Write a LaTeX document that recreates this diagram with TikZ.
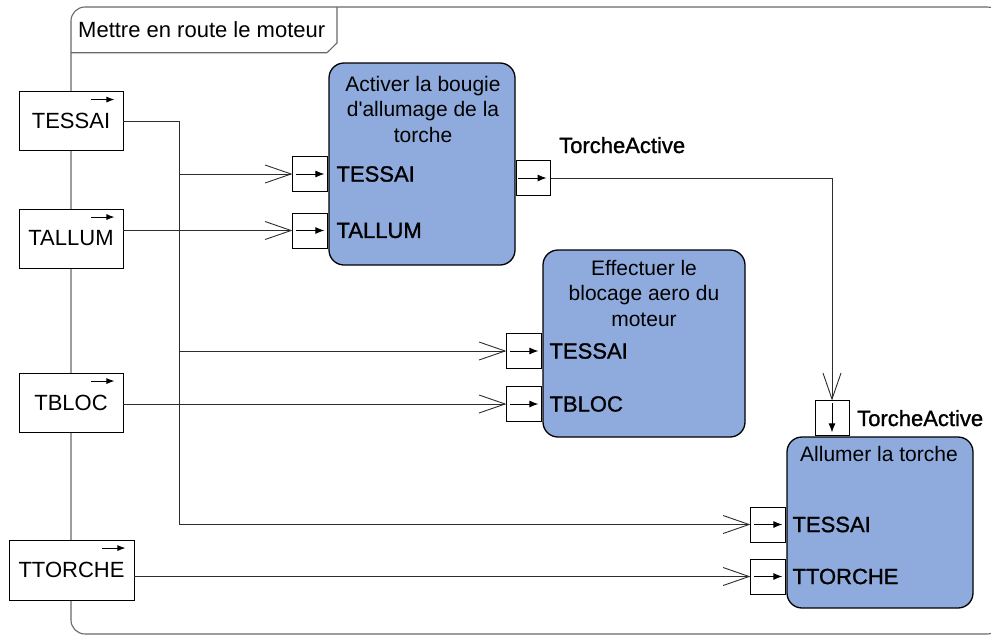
\documentclass[tikz,border=0pt]{standalone}
\usepackage{fontspec}
\setmainfont{Liberation Sans}
\newfontfamily\pinfont{Liberation Sans}[FakeBold=1.2]
\usetikzlibrary{arrows.meta,calc}
\definecolor{blockblue}{RGB}{143,171,221}
\definecolor{framegray}{RGB}{105,105,105}
\definecolor{linegray}{RGB}{45,45,45}
\begin{document}
\begin{tikzpicture}[x=1pt,y=-1pt,
  sigbox/.style={draw=black, fill=white, line width=0.9pt, inner sep=0pt, minimum width=104pt, minimum height=59pt, font=\fontsize{22}{26}\selectfont},
  pinbox/.style={draw=black, fill=white, line width=0.9pt, inner sep=0pt, minimum width=35pt, minimum height=35pt},
  block/.style={draw=black, fill=blockblue, line width=1.3pt, rounded corners=15pt, inner sep=0pt},
  btitle/.style={inner sep=0pt, align=center, font=\fontsize{21}{25.5}\selectfont},
  pinlabel/.style={inner sep=0pt, anchor=west, font=\pinfont\fontsize{22}{26}\selectfont},
  conn/.style={draw=linegray, line width=0.9pt},
  openarrow/.style={conn, -{Straight Barb[length=26pt, width=18pt, line width=0.9pt]}},
  pinarrow/.style={draw=black, line width=0.9pt, -{Latex[length=9pt, width=7pt]}},
  sigarrow/.style={draw=black, line width=0.9pt, -{Latex[length=8pt, width=6pt]}}
]
\useasboundingbox (0,0) rectangle (991,635);
\clip (0,0) rectangle (991,635);

% outer frame
\draw[framegray, line width=1.1pt, rounded corners=14pt] (71,7) rectangle (1001,634);
\draw[framegray, line width=1.1pt] (71,52.7) -- (327,52.7) -- (337,43) -- (337,7);
\node[anchor=base west, inner sep=0pt, font=\fontsize{22}{26}\selectfont] (title) at (78,37.5) {Mettre en route le moteur};

% blocks
\node[block, minimum width=186pt, minimum height=202pt] (act) at (422,164) {};
\node[block, minimum width=202pt, minimum height=187pt] (eff) at (644,343.5) {};
\node[block, minimum width=186pt, minimum height=171pt] (all) at (880,522.5) {};

\node[btitle, anchor=north] (actT) at (423,76) {Activer la bougie\\d\textquotesingle allumage de la\\torche};
\node[btitle, anchor=north] (effT) at (644,260) {Effectuer le\\blocage aero du\\moteur};
\node[btitle, anchor=north] (allT) at (879,446) {Allumer la torche};

% pins
\node[pinbox, anchor=east] (atessai) at (act.west |- 0,174) {};
\node[pinbox, anchor=east] (atallum) at (act.west |- 0,230.5) {};
\node[pinbox, anchor=west, minimum width=34pt] (aout) at (act.east |- 0,178) {};
\node[pinbox, anchor=east] (etessai) at (eff.west |- 0,351) {};
\node[pinbox, anchor=east] (etbloc) at (eff.west |- 0,404) {};
\node[pinbox, anchor=south, minimum width=34pt] (lta) at (all.north -| 832,0) {};
\node[pinbox, anchor=east] (ltessai) at (all.west |- 0,524.5) {};
\node[pinbox, anchor=east] (lttorche) at (all.west |- 0,576.5) {};

\foreach \p in {atessai,atallum,etessai,etbloc,ltessai,lttorche}{
  \draw[pinarrow] ($(\p.west)+(4,0)$) -- ($(\p.east)+(-4,0)$);
}
\draw[pinarrow] ($(aout.west)+(2,0)$) -- ($(aout.east)+(-4,0)$);
\draw[pinarrow] ($(lta.north)+(0,3)$) -- ($(lta.south)+(0,-4)$);

% pin labels
\node[pinlabel] (latessai) at ($(act.west |- atessai)+(8,0)$) {TESSAI};
\node[pinlabel] (latallum) at ($(act.west |- atallum)+(8,0)$) {TALLUM};
\node[pinlabel] (letessai) at ($(eff.west |- etessai)+(7,0)$) {TESSAI};
\node[pinlabel] (letbloc) at ($(eff.west |- etbloc)+(7,0)$) {TBLOC};
\node[pinlabel] (lltessai) at ($(all.west |- ltessai)+(6,0)$) {TESSAI};
\node[pinlabel] (llttorche) at ($(all.west |- lttorche)+(6,0)$) {TTORCHE};
\node[pinlabel, anchor=base west] (laout) at (559,153) {TorcheActive};
\node[pinlabel, anchor=base west] (llta) at (857,426) {TorcheActive};

% signal boxes
\node[sigbox] (sTESSAI) at (71,121) {TESSAI};
\node[sigbox] (sTALLUM) at (71,238.5) {TALLUM};
\node[sigbox] (sTBLOC) at (71,402.5) {TBLOC};
\node[sigbox, minimum width=125pt, minimum height=60pt] (sTTORCHE) at (71.5,570) {TTORCHE};
\foreach \s in {sTESSAI,sTALLUM,sTBLOC,sTTORCHE}{
  \draw[sigarrow] ($(\s.north east)+(-32,8.5)$) -- ++(23,0);
}

% connectors
\coordinate (trunk) at (179,121);
\draw[conn] (sTESSAI.east) -- (trunk);
\draw[openarrow] (trunk) |- (ltessai.west);
\draw[openarrow] (trunk |- atessai.west) -- (atessai.west);
\draw[openarrow] (trunk |- etessai.west) -- (etessai.west);
\draw[openarrow] (atallum.west -| sTALLUM.east) -- (atallum.west);
\draw[openarrow] (etbloc.west -| sTBLOC.east) -- (etbloc.west);
\draw[openarrow] (lttorche.west -| sTTORCHE.east) -- (lttorche.west);
\draw[openarrow] (aout.east) -| (lta.north);
\end{tikzpicture}
\end{document}
